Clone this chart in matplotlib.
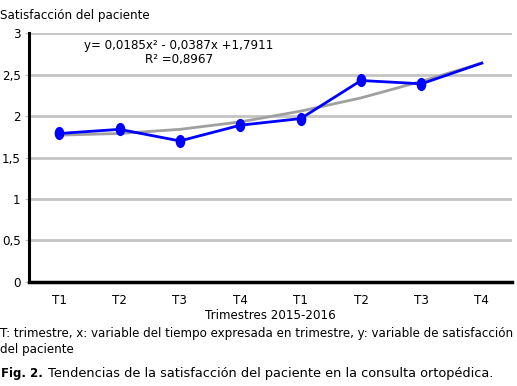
import numpy as np
import matplotlib.pyplot as plt
from matplotlib.markers import MarkerStyle
from matplotlib.transforms import Affine2D

# datos
trimestres = ["T1", "T2", "T3", "T4", "T1", "T2", "T3", "T4"]
satisfaccion = [1.79, 1.84, 1.70, 1.89, 1.97, 2.43, 2.39, 2.64]
tendencia = [1.77, 1.79, 1.84, 1.93, 2.06, 2.22, 2.42, 2.64]
yticks = [0, 0.5, 1, 1.5, 2, 2.5, 3]
ylabels = ["0", "0,5", "1", "1,5", "2", "2,5", "3"]

fs = 8.6
plt.rcParams['font.family'] = ['DejaVu Sans']
fig = plt.figure(figsize=(5.17, 3.86), dpi=100)
ax = fig.add_axes([29/517, 1-281.7/386, 483/517, (281.7-33.3)/386])

x = np.arange(len(trimestres))
ax.plot(x, tendencia, color='#a0a0a0', lw=2, zorder=3)
ax.plot(x, satisfaccion, color='#0000ff', lw=2, zorder=4)
elip = MarkerStyle('o', transform=Affine2D().scale(0.7, 1.0))
ax.plot(x[:-1], satisfaccion[:-1], ls='none', marker=elip, ms=8.5,
        color='#0000ff', zorder=5)

ax.set_xlim(-0.5, len(trimestres)-0.5)
ax.set_ylim(0, 3)
ax.set_yticks(yticks)
ax.set_yticklabels(ylabels)
ax.set_xticks(x)
ax.set_xticklabels(trimestres)
ax.tick_params(axis='y', length=3, color='#c0c0c0', labelsize=fs, pad=3)
ax.tick_params(axis='x', length=0, labelsize=fs, pad=9)
ax.grid(axis='y', color='#c4c4c4', lw=2, zorder=0)
ax.set_axisbelow(True)
for s in ['top', 'right']:
    ax.spines[s].set_visible(False)
ax.spines['left'].set_linewidth(2.2)
ax.spines['bottom'].set_linewidth(2.5)
ax.spines['left'].set_zorder(6)
ax.spines['bottom'].set_zorder(6)

ax.set_xlabel("Trimestres 2015-2016", fontsize=fs, labelpad=1)

fig.text(0, 1-16/386, "Satisfacción del paciente", fontsize=fs, va='center')
fig.text(179/517, 1-46/386, "y= 0,0185x² - 0,0387x +1,7911", fontsize=fs,
         ha='center', va='center')
fig.text(179/517, 1-59/386, "R² =0,8967", fontsize=fs, ha='center', va='center')

fig.text(0, 1-333/386, "T: trimestre, x: variable del tiempo expresada en trimestre, y: variable de satisfacción",
         fontsize=fs, va='center')
fig.text(0, 1-350/386, "del paciente", fontsize=fs, va='center')
fig.text(1/517, 1-373/386, "Fig. 2.", fontsize=8.5, fontweight='bold', va='center')
fig.text(48/517, 1-373/386, "Tendencias de la satisfacción del paciente en la consulta ortopédica.",
         fontsize=9.3, va='center')

fig.savefig("out.png", dpi=100)
